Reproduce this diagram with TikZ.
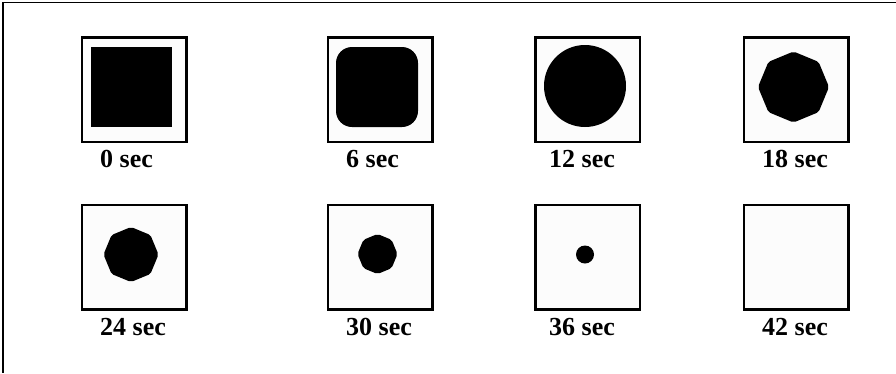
\documentclass[tikz,border=0pt]{standalone}
\usepackage{fontspec}
\setmainfont{Liberation Serif}
\begin{document}
\begin{tikzpicture}[x=1pt, y=-1pt,
  frame/.style={draw, line width=2.5pt, fill=black!1,
    minimum size=104.5pt, inner sep=0pt},
  blob/.style={fill=black},
  octo/.style={fill=black, rounded corners=2pt},
  lbl/.style={font=\fontsize{26}{28}\selectfont\bfseries,
    inner sep=0pt, anchor=base west}]

\useasboundingbox (0,0) rectangle (896,373);

% outer border -- top and left only
\draw[line width=1.5pt] (896,2.5) -- (3,2.5) -- (3,373);

% frames, top row
\node[frame] (f0)  at (134,89.5)  {};
\node[frame] (f6)  at (380,89.5)  {};
\node[frame] (f12) at (587.5,89.5) {};
\node[frame] (f18) at (796,89.5)  {};

% frames, bottom row
\node[frame] (f24) at (134,257)   {};
\node[frame] (f30) at (380,257)   {};
\node[frame] (f36) at (587.5,257) {};
\node[frame] (f42) at (796,257)   {};

% the shrinking blob
\fill[blob] (91,47) rectangle (172,127);
\fill[blob, rounded corners=16pt] (336,47) rectangle (418,127);
\fill[blob] (585,86) circle[radius=41];
\fill[octo] (793.5,87) +(0:35.5)
  \foreach \a in {45,90,...,315} { -- +(\a:35.5) } -- cycle;
\fill[octo] (131,254.5) +(0:27.5)
  \foreach \a in {45,90,...,315} { -- +(\a:27.5) } -- cycle;
\fill[octo] (377.5,254) +(0:20)
  \foreach \a in {45,90,...,315} { -- +(\a:20) } -- cycle;
\fill[blob] (585,254.5) circle[radius=9];

% time stamps
\node[lbl] (l0)  at (100,167) {0 sec};
\node[lbl] (l6)  at (346,167) {6 sec};
\node[lbl] (l12) at (549,167) {12 sec};
\node[lbl] (l18) at (762,167) {18 sec};
\node[lbl] (l24) at (100,335) {24 sec};
\node[lbl] (l30) at (346,335) {30 sec};
\node[lbl] (l36) at (549,335) {36 sec};
\node[lbl] (l42) at (762,335) {42 sec};

\end{tikzpicture}
\end{document}
